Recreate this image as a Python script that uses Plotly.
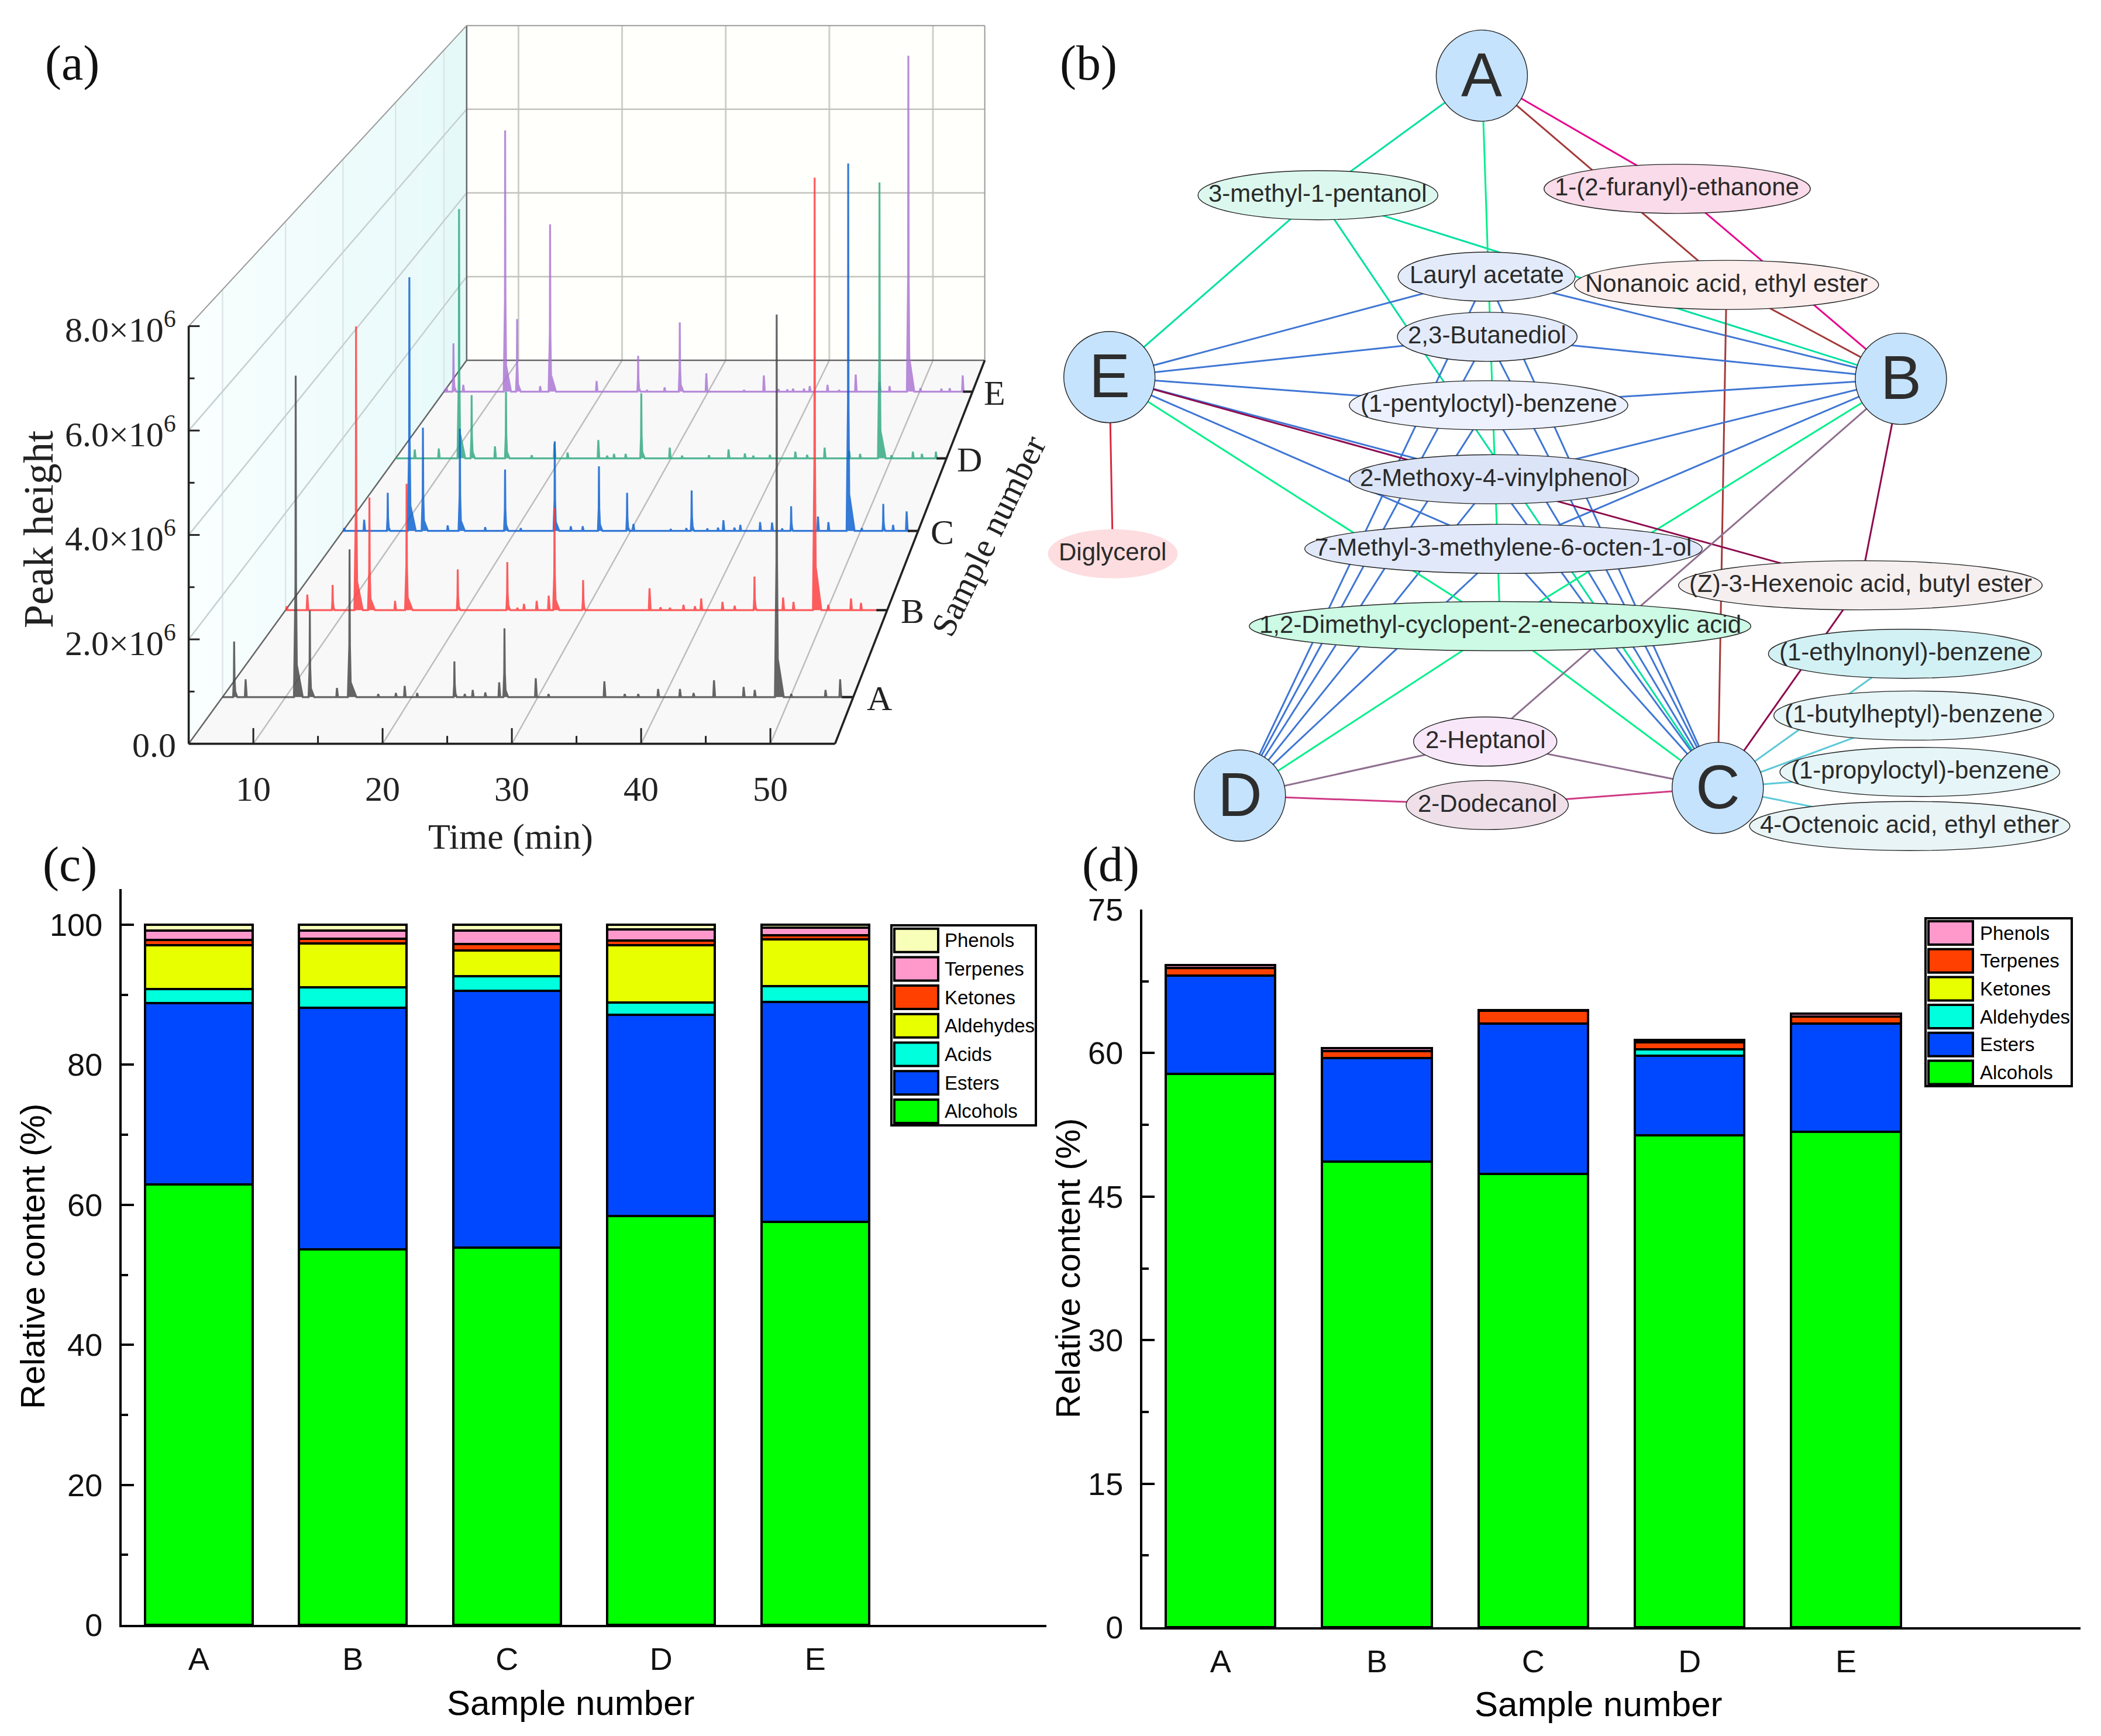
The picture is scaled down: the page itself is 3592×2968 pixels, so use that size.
import plotly.graph_objects as go

W, H = 3592, 2968
SANS = "Liberation Sans"
SERIF = "Liberation Serif"

# ---------- panel (a): chromatogram peaks, time (min) and height (x10^6)
time_A = [5.92, 6.83, 10.8, 11.92, 14.07, 15.07, 17.34, 18.74, 19.44, 20.43, 23.38, 24.2, 24.83, 25.83, 26.93, 27.35, 29.83, 30.84, 35.27, 36.88, 37.95, 39.53, 41.26, 42.34, 43.96, 46.31, 47.19, 48.93, 50.08, 52.8, 53.96]
peak_A = [1.09, 0.35, 6.31, 1.7, 0.18, 2.9, 0.06, 0.08, 0.22, 0.08, 0.7, 0.06, 0.14, 0.09, 0.29, 1.35, 0.37, 0.06, 0.31, 0.06, 0.06, 0.16, 0.16, 0.08, 0.33, 0.2, 0.14, 7.51, 0.06, 0.14, 0.35]
time_B = [5.1, 6.81, 8.91, 10.86, 11.97, 14.1, 15.06, 19.31, 23.43, 24.26, 24.81, 25.87, 26.87, 27.35, 29.73, 35.25, 36.16, 36.94, 38.07, 39.02, 39.54, 41.31, 42.32, 43.97, 46.35, 47.21, 48.97, 50.1, 51.99, 52.82]
peak_B = [0.08, 0.32, 0.52, 5.84, 2.32, 0.19, 2.6, 0.84, 0.99, 0.05, 0.13, 0.19, 0.3, 2.1, 0.62, 0.45, 0.06, 0.05, 0.11, 0.08, 0.24, 0.17, 0.09, 0.69, 0.26, 0.17, 8.9, 0.11, 0.24, 0.15]
time_C = [5.11, 6.84, 8.89, 10.77, 11.95, 14.1, 15.16, 17.36, 19.09, 20.45, 23.41, 24.8, 25.84, 27.25, 29.7, 30.25, 33.49, 34.85, 35.31, 36.67, 37.6, 38.07, 39.03, 39.54, 41.26, 42.3, 43.17, 43.96, 46.29, 47.2, 48.92, 50.1, 51.97, 52.82, 54.0]
peak_C = [0.06, 0.24, 0.82, 5.46, 2.22, 0.12, 2.2, 0.08, 1.32, 0.06, 1.93, 0.1, 0.1, 1.39, 0.82, 0.15, 0.04, 0.06, 0.87, 0.05, 0.07, 0.23, 0.07, 0.13, 0.19, 0.18, 0.05, 0.53, 0.31, 0.19, 7.91, 0.06, 0.58, 0.13, 0.42]
time_D = [6.74, 8.92, 10.76, 11.9, 14.02, 15.02, 17.35, 19.42, 20.61, 23.4, 24.2, 24.82, 25.88, 27.3, 29.88, 31.0, 33.44, 35.22, 36.7, 37.46, 38.97, 41.28, 42.35, 43.94, 46.17, 47.16, 48.92, 50.0, 51.95, 52.77, 54.04]
peak_D = [0.2, 0.22, 5.6, 1.42, 0.27, 1.5, 0.07, 0.34, 0.13, 0.41, 0.06, 0.1, 0.1, 1.46, 0.24, 0.06, 0.07, 0.2, 0.11, 0.06, 0.08, 0.15, 0.08, 0.24, 0.17, 0.1, 6.2, 0.07, 0.15, 0.1, 0.15]
time_E = [5.25, 5.9, 6.83, 10.79, 11.92, 14.1, 15.04, 19.44, 23.37, 24.2, 25.87, 27.31, 29.82, 33.38, 35.26, 36.64, 37.47, 38.02, 39.05, 39.6, 41.28, 42.37, 43.95, 46.22, 47.15, 48.93, 50.07, 52.05, 52.84, 54.07]
peak_E = [0.1, 1.13, 0.16, 6.12, 1.7, 0.13, 3.92, 0.25, 0.84, 0.04, 0.1, 1.62, 0.43, 0.04, 0.38, 0.06, 0.05, 0.07, 0.07, 0.13, 0.16, 0.04, 0.4, 0.23, 0.13, 7.87, 0.08, 0.07, 0.08, 0.38]
samples = ["A", "B", "C", "D", "E"]

# ---------- panel (c) and (d): stacked relative content
alcohols_c = [62.9, 53.6, 53.9, 58.4, 57.6]
esters_c = [25.95, 34.5, 36.7, 28.75, 31.4]
acids_c = [1.95, 2.96, 2.05, 1.75, 2.2]
aldehydes_c = [6.3, 6.29, 3.65, 8.17, 6.7]
ketones_c = [0.75, 0.65, 0.94, 0.68, 0.6]
terpenes_c = [1.35, 1.2, 1.96, 1.6, 1.1]
phenols_c = [0.8, 0.8, 0.8, 0.65, 0.4]

alcohols_d = [57.8, 48.65, 47.4, 51.4, 51.8]
esters_d = [10.3, 10.85, 15.7, 8.3, 11.3]
aldehydes_d = [0, 0, 0, 0.7, 0]
ketones_d = [0, 0, 0, 0, 0]
terpenes_d = [0.8, 0.7, 1.3, 0.7, 0.7]
phenols_d = [0.3, 0.3, 0.1, 0.3, 0.3]

ticks_c = [0, 20, 40, 60, 80, 100]
ticks_d = [0, 15, 30, 45, 60, 75]

# ---------- panel (b): network membership
compounds = ["3-methyl-1-pentanol", "1-(2-furanyl)-ethanone", "Lauryl acetate", "Nonanoic acid, ethyl ester",
             "2,3-Butanediol", "(1-pentyloctyl)-benzene", "2-Methoxy-4-vinylphenol",
             "7-Methyl-3-methylene-6-octen-1-ol", "1,2-Dimethyl-cyclopent-2-enecarboxylic acid",
             "(Z)-3-Hexenoic acid, butyl ester", "(1-ethylnonyl)-benzene", "(1-butylheptyl)-benzene",
             "(1-propyloctyl)-benzene", "4-Octenoic acid, ethyl ether", "2-Heptanol", "2-Dodecanol", "Diglycerol"]
membership = ["ABCE", "AB", "BCDE", "ABC", "BCDE", "BCDE", "BCDE", "BCDE", "ABCDE", "BCE", "C", "C", "C", "C", "BCD", "CD", "E"]

# ---------- styling and layout (pixel space of the page)
def px(x):
    return x / W
def py(y):
    return 1 - y / H

fig = go.Figure()

# ---- perspective projection of panel (a)
VX, VY = 2718.0, -2033.0
def proj(t, s, h):
    sc = 1 / (1 + 0.2475 * s)
    xf = 322.6 + 22.1 * (t - 5)
    yf = 1271.6 - h / 8 * 714
    return VX + (xf - VX) * sc, VY + (yf - VY) * sc

def seg(pts):
    xs, ys = [], []
    for t, s, h in pts:
        x, y = proj(t, s, h)
        xs.append(x); ys.append(y)
    return xs, ys

def poly(pts, fill):
    xs, ys = seg(pts)
    fig.add_trace(go.Scatter(x=xs, y=ys, xaxis="x3", yaxis="y3", mode="lines", fill="toself", fillcolor=fill,
                             line=dict(width=0), showlegend=False, hoverinfo="skip"))

def lines(pairs, color, width):
    xs, ys = [], []
    for a, b in pairs:
        xa, ya = proj(*a); xb, yb = proj(*b)
        xs += [xa, xb, None]; ys += [ya, yb, None]
    fig.add_trace(go.Scatter(x=xs, y=ys, xaxis="x3", yaxis="y3", mode="lines", line=dict(color=color, width=width),
                             showlegend=False, hoverinfo="skip"))

# walls and floor
poly([(5, 1, 0), (55, 1, 0), (55, 1, 8), (5, 1, 8)], "#fffffb")
poly([(5, 0, 0), (55, 0, 0), (55, 1, 0), (5, 1, 0)], "#f8f8f9")
wall_steps = ["#f9fefe", "#f6fdfd", "#f4fdfd", "#f2fcfc", "#f0fcfc", "#eefbfb", "#ecfbfb", "#eafafa", "#e8fafa", "#e6f9f9"]
for i, c in enumerate(wall_steps):
    a, b = i / 10, (i + 1) / 10
    poly([(5, a, 0), (5, b, 0), (5, b, 8), (5, a, 8)], c)

lines([((5, s, 0), (5, s, 8)) for s in (0.1, 0.3, 0.5, 0.7, 0.9)], "#dde6e6", 2.5)
lines([((5, 0, h), (5, 1, h)) for h in (2, 4, 6)], "#c6cfcf", 2.5)
lines([((t, 1, 0), (t, 1, 8)) for t in (10, 20, 30, 40, 50)], "#cfcfc9", 3)
lines([((5, 1, h), (55, 1, h)) for h in (2, 4, 6)], "#c4c2bc", 2.5)
lines([((t, 0, 0), (t, 1, 0)) for t in (10, 20, 30, 40, 50)], "#bdbdbd", 2.5)
lines([((5, 1, 0), (55, 1, 0)), ((5, 1, 0), (5, 1, 8)), ((5, 0, 0), (5, 1, 0))], "#666666", 2.5)
lines([((5, 1, 8), (55, 1, 8)), ((55, 1, 8), (55, 1, 0)), ((5, 0, 8), (5, 1, 8))], "#9a9a9a", 2)

def peak_points(t, h):
    big = min(h, 3.0)
    left = 0.05 + 0.03 * big
    tail = 0.08 + 0.16 * big
    if h < 0.5:
        return [(t - left, 0), (t, h), (t + left + 0.03, 0)]
    return [(t - left, 0), (t - 0.02, 0.35 * h), (t, h), (t + 0.03, 0.35 * h), (t + 0.09, 0.1 * h), (t + tail, 0)]

series_a = [("E", time_E, peak_E, 0.9, "#a974d4"), ("D", time_D, peak_D, 0.7, "#2fa880"),
            ("C", time_C, peak_C, 0.5, "#0a5fd0"), ("B", time_B, peak_B, 0.3, "#ff3b3b"),
            ("A", time_A, peak_A, 0.1, "#444444")]
for name, ts, hs, s, col in series_a:
    pts = [(5, s, 0)]
    for t, h in sorted(zip(ts, hs)):
        pts += [(a, s, b) for a, b in peak_points(t, h)]
    pts.append((55, s, 0))
    xs, ys = seg(pts)
    fig.add_trace(go.Scatter(x=xs, y=ys, xaxis="x3", yaxis="y3", mode="lines", line=dict(color=col, width=3.2),
                             fill="toself", fillcolor=col, opacity=0.82, name=name, showlegend=False, hoverinfo="skip"))
    lines([((54.1, s, 0), (55, s, 0))], "#222222", 4)

# front axes of (a)
lines([((5, 0, 0), (5, 0, 8)), ((5, 0, 0), (55, 0, 0)), ((55, 0, 0), (55, 1, 0))], "#222222", 3.6)
lines([((5, 0, h), (5.85, 0, h)) for h in (0, 2, 4, 6, 8)], "#222222", 3)
lines([((5, 0, h), (5.45, 0, h)) for h in (1, 3, 5, 7)], "#222222", 3)
lines([((t, 0, 0), (t, 0, 0.3)) for t in (10, 20, 30, 40, 50)], "#222222", 3)
lines([((t, 0, 0), (t, 0, 0.15)) for t in (15, 25, 35, 45)], "#222222", 3)

annotations = []
def note(x, y, text, size, family=SANS, color="#000000", angle=0, xanchor="center"):
    annotations.append(dict(x=px(x), y=py(y), xref="paper", yref="paper", text=text, showarrow=False,
                            xanchor=xanchor, yanchor="middle", textangle=angle, align="center",
                            font=dict(family=family, size=size, color=color)))

for h, label in zip((0, 2, 4, 6, 8), ("0.0", "2.0×10<sup>6</sup>", "4.0×10<sup>6</sup>", "6.0×10<sup>6</sup>", "8.0×10<sup>6</sup>")):
    x, y = proj(5, 0, h)
    note(x - 20, y + 2, label, 60, SERIF, "#222222", xanchor="right")
for t in (10, 20, 30, 40, 50):
    x, y = proj(t, 0, 0)
    note(x, 1349, str(t), 60, SERIF, "#222222")
note(873, 1430, "Time (min)", 62, SERIF, "#222222")
note(66, 905, "Peak height", 72, SERIF, "#222222", angle=-90)
note(1690, 916, "Sample number", 59, SERIF, "#222222", angle=-64)
for name, _, _, s, _ in series_a:
    x, y = proj(57, s, 0)
    note(x + 2, y + 2, name, 60, SERIF, "#222222")

# ---- network (b)
def bx(z):
    return 1780 + 1.1556 * z
def by(z):
    return 0.944 * z

hubs = {"A": (652, 137), "B": (1272, 686), "C": (1001, 1427), "D": (294, 1441), "E": (101, 683)}
layout_b = [  # cx, cy, rx (crop units), fill, edge colour, line
    (409.5, 353.5, 177.5, "#dcf8ee", "#00e0a0"), (941, 342, 197, "#f9dbe9", "#e8008c"),
    (659, 501, 131, "#e3ebfa", "#3f76d4"), (1014, 516, 225, "#fdeeee", "#a33a3a"),
    (660, 610, 133, "#e3ebfa", "#3f76d4"), (662, 734, 206, "#ecf1fd", "#3f76d4"),
    (670, 868, 214, "#dce5f7", "#3f76d4"), (684, 994, 294, "#e0e8f9", "#3f76d4"),
    (679, 1134, 371, "#ccfae4", "#00f08a"), (1212, 1060, 269, "#f5efef", "#8e0a4e"),
    (1278, 1184, 202, "#d2f1f4", "#5cc8d8"), (1291, 1296, 207, "#e6f5f7", "#5cc8d8"),
    (1300, 1398, 207, "#e6f5f7", "#5cc8d8"), (1285, 1496, 237, "#e8f4f5", "#5cc8d8"),
    (657, 1343, 106, "#f7e7f8", "#8f6f8f"), (660, 1458, 120, "#efdfe9", "#cf3a85"),
    (106, 1003, 96, "#fddde0", "#d9273f"),
]
shapes = []
for comp, links, (cx, cy, rx, fill, col) in zip(compounds, membership, layout_b):
    xs, ys = [], []
    for hub in links:
        hx, hy = hubs[hub]
        xs += [bx(cx), bx(hx), None]; ys += [by(cy), by(hy), None]
    fig.add_trace(go.Scatter(x=xs, y=ys, xaxis="x3", yaxis="y3", mode="lines", line=dict(color=col, width=3),
                             name=comp, showlegend=False, hoverinfo="skip"))
for comp, (cx, cy, rx, fill, col) in zip(compounds, layout_b):
    outline = 0 if comp == "Diglycerol" else 1.4
    shapes.append(dict(type="circle", xref="x3", yref="y3", layer="above", x0=bx(cx - rx), x1=bx(cx + rx),
                       y0=by(cy) - 42, y1=by(cy) + 42, fillcolor=fill, line=dict(color="#222222", width=outline)))
    note(bx(cx), by(cy) - 3, comp, 42, SANS, "#2a2a2a")
for hub, (hx, hy) in hubs.items():
    shapes.append(dict(type="circle", xref="x3", yref="y3", layer="above", x0=bx(hx) - 78, x1=bx(hx) + 78,
                       y0=by(hy) - 78, y1=by(hy) + 78, fillcolor="#c5e3fc", line=dict(color="#222222", width=1.4)))
    note(bx(hx), by(hy) - 2, hub, 105, SANS, "#2d2d2d")

# ---- stacked bars (c), (d)
x_pos = [1, 2, 3, 4, 5]
bars_c = [("Alcohols", alcohols_c, "#00ff00"), ("Esters", esters_c, "#0048ff"), ("Acids", acids_c, "#00ffdc"),
          ("Aldehydes", aldehydes_c, "#e8ff00"), ("Ketones", ketones_c, "#ff4000"), ("Terpenes", terpenes_c, "#ff99cc"),
          ("Phenols", phenols_c, "#f8ffb8")]
bars_d = [("Alcohols", alcohols_d, "#00ff00"), ("Esters", esters_d, "#0048ff"), ("Aldehydes", aldehydes_d, "#00ffdc"),
          ("Ketones", ketones_d, "#e8ff00"), ("Terpenes", terpenes_d, "#ff4000"), ("Phenols", phenols_d, "#ff99cc")]
for bars, xa, ya in ((bars_c, "x", "y"), (bars_d, "x2", "y2")):
    for name, vals, col in bars:
        fig.add_trace(go.Bar(x=x_pos, y=vals, width=0.7, name=name, xaxis=xa, yaxis=ya, showlegend=False,
                             marker=dict(color=col, line=dict(color="#000000", width=4))))

def legend_box(bars, x0, x1, y0, y1, sx0, sx1, first, step, tx):
    shapes.append(dict(type="rect", xref="paper", yref="paper", x0=px(x0), x1=px(x1), y0=py(y0), y1=py(y1),
                       fillcolor="white", layer="above", line=dict(color="#000000", width=4)))
    for i, (name, _, col) in enumerate(reversed(bars)):
        yc = first + i * step
        shapes.append(dict(type="rect", xref="paper", yref="paper", x0=px(sx0), x1=px(sx1), y0=py(yc - 20), y1=py(yc + 20),
                           fillcolor=col, layer="above", line=dict(color="#000000", width=4)))
        note(tx, yc, name, 33, SANS, "#000000", xanchor="left")

legend_box(bars_c, 1524, 1771, 1582, 1924, 1529, 1604, 1607.7, 48.7, 1613)
legend_box(bars_d, 3292, 3542, 1570, 1857, 3297, 3373, 1595, 47.7, 3383)

note(55, 2148, "Relative content (%)", 58, angle=-90)
note(976, 2911, "Sample number", 60)
note(1826, 2168, "Relative content (%)", 57, angle=-90)
note(2733, 2913, "Sample number", 60)
note(123, 108, "(a)", 84, SERIF, "#111111")
note(1861, 108, "(b)", 84, SERIF, "#111111")
note(119, 1478, "(c)", 84, SERIF, "#111111")
note(1899, 1478, "(d)", 84, SERIF, "#111111")

def yaxis_style(domain, rng, ticks, minor):
    return dict(domain=domain, range=rng, tickmode="array", tickvals=ticks, ticktext=[str(v) for v in ticks],
                ticks="inside", ticklen=21, tickwidth=4, tickcolor="#000000", showline=True, linecolor="#000000",
                linewidth=4, showgrid=False, zeroline=False, ticklabelstandoff=18,
                tickfont=dict(family=SANS, size=54, color="#111111"),
                minor=dict(ticks="inside", ticklen=11, tickwidth=4, tickcolor="#000000", tickmode="array",
                           tickvals=minor, showgrid=False))

def xaxis_style(domain, anchor):
    return dict(domain=domain, range=[0.5, 6.5], anchor=anchor, tickmode="array", tickvals=x_pos, ticktext=samples,
                ticks="", showline=True, linecolor="#000000", linewidth=4, showgrid=False, zeroline=False,
                ticklabelstandoff=8, tickfont=dict(family=SANS, size=54, color="#111111"))

fig.update_layout(
    width=W, height=H, margin=dict(l=0, r=0, t=0, b=0, autoexpand=False), paper_bgcolor="white", plot_bgcolor="rgba(0,0,0,0)",
    barmode="stack", showlegend=False, shapes=shapes, annotations=annotations,
    xaxis=xaxis_style([px(208), px(1789)], "y"),
    yaxis=dict(yaxis_style([py(2778), py(1520)], [0, 105.1], ticks_c, [10, 30, 50, 70, 90]), anchor="x"),
    xaxis2=xaxis_style([px(1953), px(3557)], "y2"),
    yaxis2=dict(yaxis_style([py(2782), py(1555)], [0, 75], ticks_d, [7.5, 22.5, 37.5, 52.5, 67.5]), anchor="x2"),
    xaxis3=dict(domain=[0, 1], range=[0, W], visible=False, anchor="y3", fixedrange=True),
    yaxis3=dict(domain=[0, 1], range=[H, 0], visible=False, anchor="x3", fixedrange=True),
)
fig.write_html("out.html", config={"displayModeBar": False},
               post_script="document.body.style.margin='0';document.documentElement.style.overflow='hidden';")
